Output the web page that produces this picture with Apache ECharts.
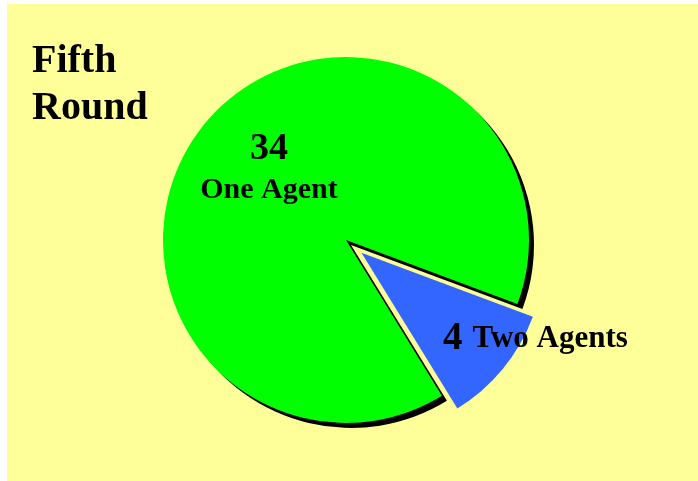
<!DOCTYPE html>
<html>
<head>
<meta charset="utf-8">
<script src="https://cdn.jsdelivr.net/npm/echarts@6/dist/echarts.min.js"></script>
<style>
html,body{margin:0;padding:0;background:#fff;}
#c{width:698px;height:481px;}
</style>
</head>
<body>
<div id="c"></div>
<script>
const titleText = 'Fifth\nRound';
const categories = ['Two Agents', 'One Agent'];
const values = [4, 34];
const colors = ['#3366FF', '#00FF00'];

const SERIF = "'Liberation Serif','Times New Roman',serif";

const chart = echarts.init(document.getElementById('c'), null, {renderer: 'canvas'});

const data = categories.map((name, i) => ({
  name: name,
  value: values[i],
  selected: i === 0,
  itemStyle: i === 1 ? {
    color: colors[i],
    shadowColor: '#000',
    shadowBlur: 0,
    shadowOffsetX: 5,
    shadowOffsetY: 5
  } : {
    color: colors[i]
  },
  label: i === 1 ? {
    formatter: p => '{v|' + p.value + '}\n{n|' + p.name + '}'
  } : {
    formatter: p => '{v2|' + p.value + '}{n2|' + p.name + '}'
  }
}));

chart.setOption({
  animation: false,
  backgroundColor: '#ffffff',
  graphic: [{
    type: 'rect', z: -10, silent: true,
    shape: {x: 7, y: 4, width: 691, height: 477},
    style: {fill: '#FFFF99'}
  }],
  title: {
    text: titleText,
    left: 32, top: 38, padding: 0,
    textStyle: {fontFamily: SERIF, fontWeight: 'bold', fontSize: 40, lineHeight: 47, color: '#000'}
  },
  series: [{
    type: 'pie',
    center: [346, 240],
    radius: 183,
    startAngle: -20.5,
    clockwise: true,
    selectedMode: 'single',
    selectedOffset: 20,
    avoidLabelOverlap: false,
    emphasis: {disabled: true},
    label: {
      show: true,
      position: 'inside',
      color: '#000',
      fontFamily: SERIF,
      fontWeight: 'bold',
      rich: {
        v: {fontFamily: SERIF, fontWeight: 'bold', fontSize: 38, lineHeight: 40, color: '#000'},
        n: {fontFamily: SERIF, fontWeight: 'bold', fontSize: 30, lineHeight: 42, color: '#000'},
        v2: {fontFamily: SERIF, fontWeight: 'bold', fontSize: 39, lineHeight: 44, color: '#000', padding: [0, 10, 0, 0]},
        n2: {fontFamily: SERIF, fontWeight: 'bold', fontSize: 31, lineHeight: 44, color: '#000'}
      }
    },
    labelLine: {show: false},
    labelLayout: function (p) {
      if (p.dataIndex === 0) return {dx: 101, dy: 26};
      return {dx: -4, dy: -10};
    },
    data: data
  }]
});
</script>
</body>
</html>
